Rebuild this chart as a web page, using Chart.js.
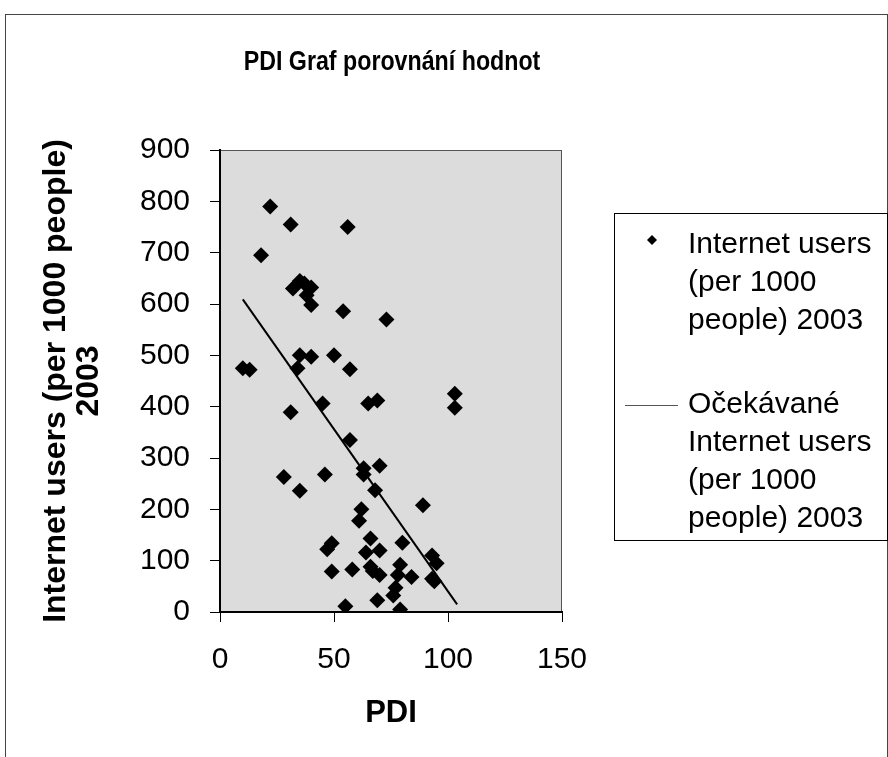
<!DOCTYPE html>
<html><head><meta charset="utf-8">
<script src="https://cdn.jsdelivr.net/npm/chart.js@4/dist/chart.umd.min.js"></script>
<style>html,body{margin:0;padding:0;background:#fff;}#wrap{width:888px;height:757px;}</style>
</head><body><div id="wrap"><canvas id="c" width="888" height="757"></canvas></div>
<script>
const chartTitle = 'PDI Graf porovnání hodnot';
const xAxisTitle = 'PDI';
const yAxisTitle = ['Internet users (per 1000 people)', '2003'];
const legendPoints = ['Internet users', '(per 1000', 'people) 2003'];
const legendLine = ['Očekávané', 'Internet users', '(per 1000', 'people) 2003'];
const xTicks = [0, 50, 100, 150];
const yTicks = [0, 100, 200, 300, 400, 500, 600, 700, 800, 900];

const pdi = [22,31,56,18,32,35,37,40,38,40,54,73,35,40,50,10,13,34,57,45,65,69,31,103,103,57,63,63,70,28,46,35,68,89,62,61,66,49,47,64,70,80,93,95,79,66,67,58,49,70,84,78,94,93,77,76,69,55,79];
const internetUsers = [790,755,750,695,630,645,640,632,617,598,586,570,500,497,500,475,472,475,473,406,406,412,389,425,398,335,280,268,285,263,268,236,237,208,200,178,143,134,122,116,120,135,110,95,92,88,80,83,79,72,68,72,60,65,47,32,23,11,5];
const trendPdi = [10, 104];
const trendUsers = [609, 15];

const FONT = "'Liberation Sans', Arial, sans-serif";

const decor = {
  id: 'decor',
  beforeDraw(chart) {
    const ctx = chart.ctx, a = chart.chartArea;
    ctx.save();
    ctx.fillStyle = '#fff';
    ctx.fillRect(0, 0, chart.width, chart.height);
    ctx.strokeStyle = '#444';
    ctx.lineWidth = 1;
    ctx.strokeRect(5.5, 14.5, 882, 760);
    ctx.fillStyle = '#dcdcdc';
    ctx.fillRect(a.left, a.top, a.right - a.left, a.bottom - a.top);
    ctx.strokeStyle = '#555';
    ctx.strokeRect(a.left + 0.5, a.top + 0.5, a.right - a.left - 1, a.bottom - a.top);
    ctx.restore();
  },
  afterDraw(chart) {
    const ctx = chart.ctx;
    ctx.save();
    ctx.fillStyle = '#000';
    ctx.textAlign = 'center';
    ctx.textBaseline = 'middle';
    ctx.font = "bold 27px " + FONT;
    ctx.save();
    ctx.translate(392, 63);
    ctx.scale(0.86, 1);
    ctx.fillText(chartTitle, 0, 0);
    ctx.restore();
    // legend box
    ctx.strokeStyle = '#000';
    ctx.lineWidth = 1;
    ctx.strokeRect(614.5, 213.5, 273, 327);
    // diamond symbol
    ctx.beginPath();
    ctx.moveTo(652, 235); ctx.lineTo(657, 240); ctx.lineTo(652, 245); ctx.lineTo(647, 240); ctx.closePath();
    ctx.fill();
    // line symbol
    ctx.strokeStyle = '#555';
    ctx.beginPath(); ctx.moveTo(625, 405.5); ctx.lineTo(678, 405.5); ctx.stroke();
    ctx.textAlign = 'left';
    ctx.font = "30px " + FONT;
    legendPoints.forEach((t, i) => ctx.fillText(t, 688, 245 + i * 38));
    legendLine.forEach((t, i) => ctx.fillText(t, 688, 405 + i * 38));
    ctx.restore();
  }
};

new Chart(document.getElementById('c'), {
  type: 'scatter',
  data: {
    datasets: [
      {
        label: legendPoints.join(' '),
        data: pdi.map((x, i) => ({x: x, y: internetUsers[i]})),
        pointStyle: 'rectRot',
        pointRadius: 8,
        backgroundColor: '#000',
        borderColor: '#000',
        borderWidth: 0,
        showLine: false
      },
      {
        label: legendLine.join(' '),
        data: trendPdi.map((x, i) => ({x: x, y: trendUsers[i]})),
        showLine: true,
        borderColor: '#000',
        borderWidth: 2,
        pointRadius: 0,
        fill: false
      }
    ]
  },
  options: {
    responsive: false,
    animation: false,
    devicePixelRatio: 1,
    layout: {padding: {left: 0, right: 326, top: 150, bottom: 0}},
    plugins: {legend: {display: false}, title: {display: false}, tooltip: {enabled: false}},
    scales: {
      x: {
        type: 'linear', min: 0, max: 150,
        afterBuildTicks: s => { s.ticks = xTicks.map(v => ({value: v})); },
        afterFit: s => { s.height = 145; },
        ticks: {color: '#000', font: {family: FONT, size: 30}, padding: 20, maxRotation: 0},
        grid: {drawOnChartArea: false, drawTicks: true, tickLength: 10, color: '#000', tickWidth: 1},
        border: {display: true, color: '#000', width: 2},
        title: {display: true, text: xAxisTitle, color: '#000', font: {family: FONT, size: 31, weight: 'bold', lineHeight: 1.2}, padding: {top: 0, bottom: 25}}
      },
      y: {
        type: 'linear', min: 0, max: 900,
        afterBuildTicks: s => { s.ticks = yTicks.map(v => ({value: v})); },
        afterFit: s => { s.width = 220; },
        ticks: {color: '#000', font: {family: FONT, size: 30}, padding: 20},
        grid: {drawOnChartArea: false, drawTicks: true, tickLength: 10, color: '#000', tickWidth: 1},
        border: {display: true, color: '#000', width: 2},
        title: {display: true, text: yAxisTitle, color: '#000', font: {family: FONT, size: 32, weight: 'bold', lineHeight: 1.03}, padding: {top: 40, bottom: 0}}
      }
    }
  },
  plugins: [decor]
});
</script>
</body></html>
